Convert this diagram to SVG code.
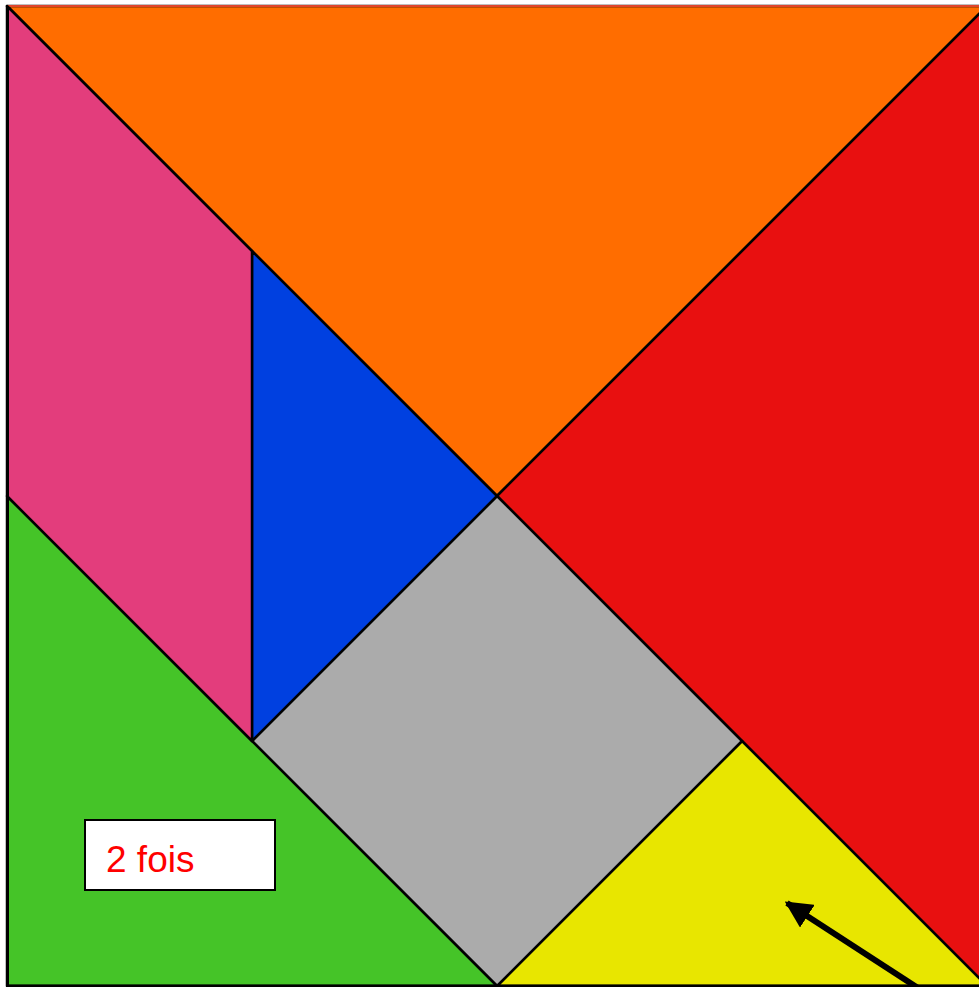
<svg xmlns="http://www.w3.org/2000/svg" width="979" height="987" viewBox="0 0 979 987">
<style>
.p{stroke:#000;stroke-width:2.5;stroke-linejoin:round}
.lbl{font-family:"Liberation Sans",Arial,sans-serif;font-size:37px;fill:#FF0000}
</style>
<defs>
<marker id="ah" viewBox="0 0 10 10" refX="9" refY="5" markerWidth="4.5" markerHeight="4.5" orient="auto" markerUnits="strokeWidth">
<path d="M0,0 L10,5 L0,10 Z" fill="#000"/>
</marker>
</defs>
<rect width="979" height="987" fill="#fff"/>
<g id="orange"><polygon class="p" points="7,6 987,6 497,496" fill="#FF6D00"/><line x1="7" y1="6" x2="979" y2="6" stroke="#E0452B" stroke-width="2"/></g>
<g id="red"><polygon class="p" points="987,6 497,496 987,986" fill="#E81010"/></g>
<g id="yellow"><polygon class="p" points="742,741 987,986 497,986" fill="#E8E600"/></g>
<g id="gray"><polygon class="p" points="497,496 742,741 497,986 252,741" fill="#ABABAB"/></g>
<g id="green"><polygon class="p" points="7,496 497,986 7,986" fill="#45C428"/></g>
<g id="blue"><polygon class="p" points="252,251 497,496 252,741" fill="#0040E0"/></g>
<g id="pink"><polygon class="p" points="7,6 252,251 252,741 7,496" fill="#E33D7C"/></g>
<line x1="7.5" y1="6" x2="7.5" y2="987" stroke="#000" stroke-width="3"/>
<line x1="7" y1="985.5" x2="979" y2="985.5" stroke="#000" stroke-width="2"/>
<g id="label"><rect x="85" y="820" width="190" height="70" fill="#fff" stroke="#000" stroke-width="2"/><text class="lbl" x="106" y="872">2 fois</text></g>
<g id="connectors"><line x1="918" y1="988" x2="787" y2="903" stroke="#000" stroke-width="6" marker-end="url(#ah)"/></g>
</svg>
